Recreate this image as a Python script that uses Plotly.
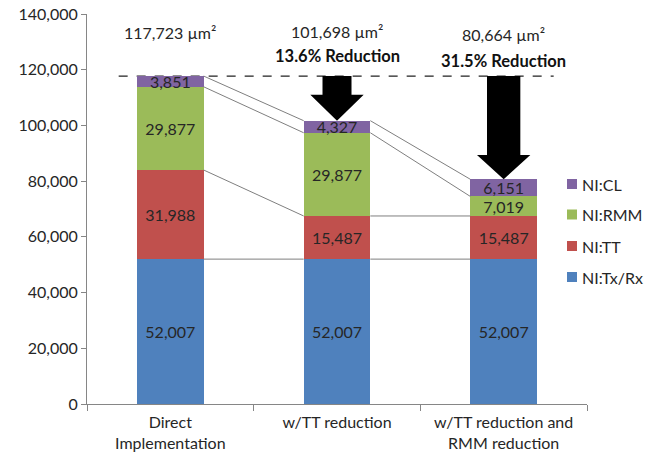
import plotly.graph_objects as go

# Area breakdown per implementation (µm²)
categories = ["Direct<br>Implementation", "w/TT reduction", "w/TT reduction and<br>RMM reduction"]
series_names = ["NI:Tx/Rx", "NI:TT", "NI:RMM", "NI:CL"]
txrx = [52007, 52007, 52007]
tt = [31988, 15487, 15487]
rmm = [29877, 29877, 7019]
cl = [3851, 4327, 6151]
y_ticks = [0, 20000, 40000, 60000, 80000, 100000, 120000, 140000]

colors = ["#4F81BD", "#C0504D", "#9BBB59", "#8064A2"]
series = [txrx, tt, rmm, cl]
FONT = "Lato, 'Open Sans', sans-serif"
FS = 16
TEXT = "#262626"
AXIS = "#868686"
BAR_W = 0.4
xs = list(range(len(categories)))

fig = go.Figure()
for name, vals, col in zip(series_names, series, colors):
    fig.add_trace(go.Bar(
        x=xs, y=vals, name=name, width=BAR_W,
        marker=dict(color=col, line=dict(width=0)),
        texttemplate="%{y:,}", textposition="inside",
        insidetextanchor="middle",
        textfont=dict(family=FONT, size=FS, color=TEXT),
        showlegend=False,
    ))

# cumulative tops of each segment
tops = []
run = [0] * len(xs)
for vals in series:
    run = [a + b for a, b in zip(run, vals)]
    tops.append(list(run))
totals = tops[-1]

shapes = []
# connector lines between segment tops of adjacent bars
for level in tops:
    for i in range(len(xs) - 1):
        shapes.append(dict(type="line", xref="x", yref="y",
                           x0=i + BAR_W / 2, x1=i + 1 - BAR_W / 2,
                           y0=level[i], y1=level[i + 1],
                           line=dict(color="#7f7f7f", width=1)))

# baseline total as dashed reference
shapes.append(dict(type="line", xref="x", yref="y",
                   x0=-0.31, x1=2.3, y0=totals[0], y1=totals[0],
                   line=dict(color="#222222", width=1.2, dash="dash"), layer="below"))

# downward arrows from baseline to reduced totals
arrow_geom = {1: (0.087, 0.16, 9300), 2: (0.10, 0.16, 8700)}
for i, (half_shaft, half_head, head_len) in arrow_geom.items():
    top = totals[0]
    tip = totals[i]
    base = tip + head_len
    path = (f"M {i-half_shaft},{top} L {i+half_shaft},{top} L {i+half_shaft},{base} "
            f"L {i+half_head},{base} L {i},{tip} L {i-half_head},{base} "
            f"L {i-half_shaft},{base} Z")
    shapes.append(dict(type="path", xref="x", yref="y", path=path,
                       fillcolor="black", line=dict(width=0)))

annotations = []
area_y = [133500, 133800, 132600]
for i in xs:
    annotations.append(dict(x=i, y=area_y[i], xref="x", yref="y",
                            text=f"{totals[i]:,} µm²", showarrow=False,
                            font=dict(family=FONT, size=FS, color=TEXT)))
red_y = [0, 124900, 123100]
for i in xs[1:]:
    pct = (1 - totals[i] / totals[0]) * 100
    annotations.append(dict(x=i, y=red_y[i], xref="x", yref="y",
                            text=f"<b>{pct:.1f}% Reduction</b>", showarrow=False,
                            font=dict(family=FONT, size=16.5, color="#111111")))

# legend, top entry first
legend_y = [277, 246, 214.5, 184]
H = 390.0
for name, col, py in zip(series_names, colors, legend_y):
    yc = (404 - py) / H
    shapes.append(dict(type="rect", xref="paper", yref="paper",
                       x0=(567 - 87) / 500, x1=(577 - 87) / 500,
                       y0=yc - 5 / H, y1=yc + 5 / H,
                       fillcolor=col, line=dict(width=0)))
    annotations.append(dict(x=(580 - 87) / 500, y=yc, xref="paper", yref="paper",
                            text=name, showarrow=False, xanchor="left", yanchor="middle",
                            font=dict(family=FONT, size=FS, color=TEXT)))

fig.update_layout(
    width=645, height=461,
    margin=dict(l=87, r=58, t=14, b=57, autoexpand=False),
    barmode="stack",
    plot_bgcolor="white", paper_bgcolor="white",
    font=dict(family=FONT, size=FS, color=TEXT),
    uniformtext=dict(minsize=FS, mode="show"),
    shapes=shapes, annotations=annotations,
    xaxis=dict(range=[-0.5, 2.5], tickvals=xs, ticktext=categories,
               ticks="", showline=True, linecolor=AXIS, linewidth=1,
               showgrid=False, zeroline=False, ticklabelstandoff=4,
               automargin=False,
               minor=dict(tickvals=[-0.5, 0.5, 1.5, 2.5], ticks="outside",
                          ticklen=6, tickcolor=AXIS),
               tickfont=dict(family=FONT, size=FS, color=TEXT)),
    yaxis=dict(range=[0, 140000], tickvals=y_ticks, tickformat=",",
               ticks="outside", ticklen=5, tickcolor=AXIS,
               showline=True, linecolor=AXIS, linewidth=1,
               showgrid=False, zeroline=False, automargin=False,
               tickfont=dict(family=FONT, size=FS, color=TEXT)),
)

fig.write_html("out.html")
